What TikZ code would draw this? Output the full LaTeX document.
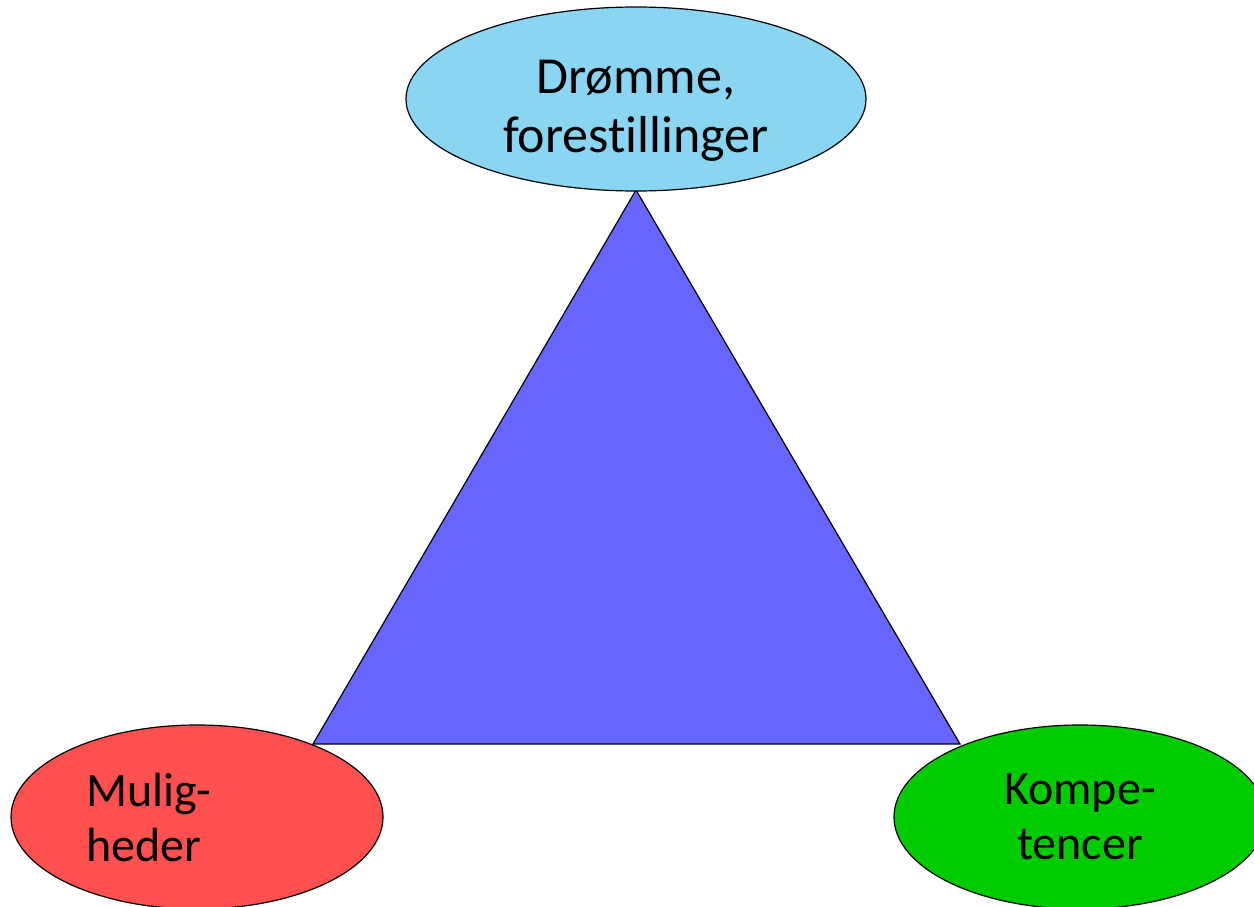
\documentclass[tikz,border=0pt]{standalone}
\usepackage{fontspec}
\setmainfont[Ligatures=NoCommon]{Carlito}
\usepackage{xcolor}
\usetikzlibrary{shapes.geometric}

\definecolor{skyblue}{HTML}{8AD6F2}
\definecolor{triblue}{HTML}{6666FF}
\definecolor{mulred}{HTML}{FF5050}
\definecolor{kompgreen}{HTML}{00CC00}

\tikzset{
  bubble/.style={ellipse, draw=black, line width=1.2pt, inner sep=0pt,
    minimum width=372pt, minimum height=184pt, align=center},
}

\begin{document}
\begin{tikzpicture}[x=1pt,y=1pt]
      \useasboundingbox (0,0) rectangle (1254,-907);
      \clip (0,0) rectangle (1254,-907);

      \coordinate(T) at (636,-190);
      \coordinate(L) at (313,-744);
      \coordinate(R) at (960,-744);
      \filldraw[fill=triblue, draw=black, line width=1.2pt] (T) -- (L) -- (R) -- cycle;

      \node[bubble, fill=skyblue, minimum width=460pt, font=\fontsize{52}{59}\selectfont] (dreams) at (636,-99) {\rule{0pt}{56pt}Drømme,\\forestillinger};
      \node[bubble, fill=mulred, text width=222pt, align=left, font=\fontsize{48}{55}\selectfont] (chances) at (197,-817) {Mulig-\\heder};
      \node[bubble, fill=kompgreen, font=\fontsize{48}{55}\selectfont] (skills) at (1080,-817) {Kompe-\\tencer};
\end{tikzpicture}
\end{document}
